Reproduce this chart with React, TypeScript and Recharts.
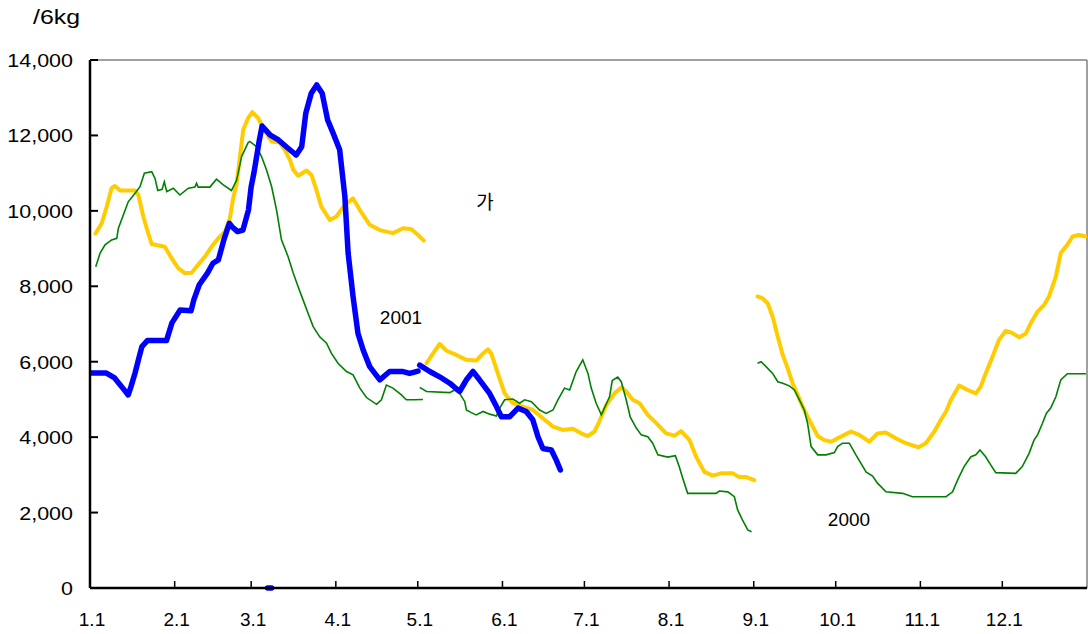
import React from 'react';
import { LineChart, Line, XAxis, YAxis, ReferenceLine } from 'recharts';

const FONT = "'Liberation Sans', Arial, 'Noto Sans CJK KR', sans-serif";

// day of year (0 = 1.1) for the month ticks
const monthTicks = [0, 31, 59, 90, 120, 151, 181, 212, 243, 273, 304, 334];
const monthLabels = ['1.1', '2.1', '3.1', '4.1', '5.1', '6.1', '7.1', '8.1', '9.1', '10.1', '11.1', '12.1'];
const yTicks = [0, 2000, 4000, 6000, 8000, 10000, 12000, 14000];

// 2001 (blue)
const blueDays = [
  0, 6, 9, 12, 14, 15, 16.5, 18, 19, 21,
  28, 30, 33, 37, 38, 40, 43, 45, 47, 49,
  51, 52, 54, 56, 58, 59, 60, 62, 63, 66,
  69, 72.5, 75.5, 77.5, 79, 81, 83, 85, 87, 89,
  91.4, 93.3, 94.5, 96.3, 98.1, 100, 102.4, 106.1, 109.7, 114.6,
  117, 120.1, 120.4,
  120.7, 124.4, 128, 131.7, 135.3, 137.8, 140.2, 142.6, 146.3, 148.8,
  150.6, 153.6, 156.7, 159.7, 162.1, 164, 165.8, 168.9, 170.7, 172.2,
  172.5, 65, 66.5,
];
const blueValues = [
  5700, 5700, 5570, 5300, 5120, 5340, 5700, 6130, 6400, 6560,
  6560, 7030, 7370, 7350, 7640, 8040, 8350, 8610, 8700, 9230,
  9670, 9580, 9450, 9490, 10020, 10640, 11000, 11880, 12250, 12010,
  11880, 11660, 11480, 11700, 12590, 13120, 13340, 13120, 12410, 12060,
  11620, 10380, 8880, 7730, 6750, 6310, 5870, 5520, 5740, 5740,
  5690, 5750, null,
  5910, 5740, 5600, 5430, 5210, 5520, 5740, 5520, 5160, 4810,
  4540, 4540, 4770, 4680, 4460, 4010, 3700, 3660, 3390, 3130,
  null, 0, 0,
];

// yellow series
const yellowDays = [
  2, 4.3, 6.1, 7.9, 9.1, 11, 16.5, 17.7, 19.5, 21.3,
  22.6, 27.4, 29.9, 32.3, 34.7, 37.2, 39.6, 42.1, 44.5, 46.9,
  49.4, 51.2, 52.4, 53.7, 54.9, 56.1, 57.9, 59.4, 61.6, 63.4,
  66.5, 69.5, 71.3, 73.2, 74.4, 76.2, 79.3, 81.1, 82.9, 84.7,
  87.8, 90.2, 93.3, 96.3, 98.8, 102.4, 106.1, 110.9, 114.6, 117.7,
  120.1, 122.2, 122.7,
  123.2, 125.6, 128, 130.5, 134.1, 137.8, 141.4, 143.9, 145.7, 146.9,
  149.3, 151.8, 154.8, 158.5, 162.1, 165.8, 169.5, 173.1, 176.8, 179.8,
  182.3, 184.7, 186.5, 189, 192, 194.6, 196.3, 198.7, 201.2, 204.2,
  207.3, 210.9, 214, 216.4, 219.5, 221.9, 224.9, 228, 231, 235.3,
  237.7, 240.2, 243.2, 243.8,
  244.4, 246.3, 248.1, 249.9, 251.8, 253.6, 255.4, 257.2, 259.1, 260.9,
  262.7, 264.6, 266.4, 268.8, 271.3, 273.7, 276.2, 278.6, 281.6, 285.3,
  288.3, 291.4, 295, 298.7, 303.3, 306, 309.1, 311.5, 313.4, 315.2,
  318.2, 321.3, 324.3, 326.1, 327.9, 330.4, 332.8, 335.3, 337.1, 340.2,
  342.6, 344.4, 346.9, 349.3, 351.1, 353.6, 355.4, 357.8, 359.7, 362.1,
  364.6,
];
const yellowValues = [
  9400, 9670, 10110, 10600, 10660, 10540, 10540, 10420, 9850, 9410,
  9120, 9050, 8740, 8480, 8350, 8360, 8570, 8790, 9050, 9270,
  9450, 9800, 10330, 10730, 11440, 12150, 12460, 12620, 12460, 12190,
  11840, 11810, 11620, 11350, 11090, 10930, 11070, 10950, 10550, 10110,
  9760, 9850, 10160, 10330, 10020, 9630, 9490, 9410, 9540, 9510,
  9360, 9210, null,
  5960, 6220, 6470, 6290, 6180, 6050, 6030, 6220, 6330, 6220,
  5690, 5160, 4900, 4810, 4720, 4500, 4280, 4190, 4220, 4100,
  4030, 4150, 4420, 4850, 5160, 5320, 5210, 4990, 4900, 4590,
  4370, 4100, 4040, 4160, 3920, 3480, 3080, 2980, 3040, 3040,
  2940, 2940, 2860, null,
  7730, 7680, 7550, 7200, 6660, 6180, 5830, 5430, 5120, 4810,
  4540, 4280, 4030, 3920, 3880, 3970, 4060, 4150, 4060, 3880,
  4100, 4120, 3970, 3840, 3730, 3840, 4150, 4460, 4680, 4990,
  5370, 5250, 5160, 5340, 5690, 6130, 6580, 6820, 6780, 6650,
  6750, 7020, 7330, 7510, 7730, 8260, 8880, 9100, 9320, 9360,
  9320,
];

// 2000 (green)
const greenDays = [
  2.1, 3.7, 5.5, 7.9, 9.8, 10.4, 12.2, 14, 16.5, 18.3,
  19.9, 22.6, 23.8, 24.8, 26.4, 27.2, 28.1, 30.5, 32.9, 36,
  38.4, 39, 39.6, 43.9, 46.3, 48.8, 51.8, 53.7, 55.5, 57.9,
  58.5, 61, 62.8, 64.6, 66.5, 68.3, 70.1, 72.5, 74.4, 76.2,
  78, 79.8, 81.7, 84.1, 86.6, 88.4, 90.8, 93.9, 96.3, 98.8,
  101.2, 104.9, 106.7, 108.5, 110.9, 114, 115.8, 118.3, 121.9, 121,
  120.7, 123.2, 131.7, 133.5, 135.3, 137.2, 137.8, 139.6, 141.4, 143.9,
  146.3, 148.8, 150, 151.8, 154.8, 157.3, 159.1, 161.6, 164.6, 167,
  169.5, 171.3, 173.7, 175.6, 178, 180.4, 182.3, 183.5, 185.3, 187.2,
  190.2, 191.2, 193.2, 194.5, 196.3, 197.8, 200, 201.8, 204.2, 206,
  207.9, 211.5, 214.3, 215.7, 217, 218.8, 229.2, 230.4, 233.5, 235.9,
  237.1, 238.9, 240.8, 242.2, 243,
  244.4, 245.7, 247.5, 249.9, 251.8, 253.6, 256, 257.9, 259.7, 261.5,
  262.7, 264, 266.4, 269.5, 272.5, 273.7, 275.5, 278, 280.4, 284.1,
  286.5, 288.3, 291.4, 297.5, 301.1, 313.4, 315.8, 317.6, 320, 322.5,
  324.3, 325.8, 327.9, 329.8, 331.6, 338.9, 341.3, 343.8, 345.6, 346.9,
  348.7, 350.1, 351.7, 353.6, 355.4, 357.8, 364.6,
];
const greenValues = [
  8520, 8880, 9100, 9230, 9270, 9540, 9890, 10240, 10470, 10640,
  11000, 11040, 10860, 10540, 10570, 10770, 10510, 10600, 10420, 10600,
  10630, 10730, 10630, 10630, 10840, 10690, 10540, 10820, 11440, 11810,
  11840, 11700, 11440, 11090, 10640, 10020, 9230, 8790, 8350, 7990,
  7640, 7290, 6930, 6660, 6490, 6220, 5960, 5740, 5650, 5300,
  5050, 4870, 4990, 5380, 5300, 5120, 4990, 4990, 5000, null,
  5320, 5210, 5180, 5250, 5160, 4940, 4720, 4650, 4590, 4680,
  4610, 4560, 4770, 4990, 5010, 4900, 4990, 4940, 4720, 4630,
  4720, 4990, 5300, 5250, 5740, 6050, 5690, 5300, 4900, 4590,
  5070, 5500, 5590, 5470, 4990, 4530, 4240, 4060, 4010, 3840,
  3530, 3470, 3510, 3220, 2910, 2510, 2510, 2570, 2550, 2420,
  2070, 1800, 1540, 1490, null,
  5960, 6000, 5870, 5690, 5470, 5430, 5360, 5250, 4990, 4720,
  4370, 3750, 3530, 3530, 3590, 3750, 3840, 3840, 3530, 3080,
  2970, 2780, 2550, 2510, 2420, 2420, 2550, 2860, 3220, 3480,
  3530, 3660, 3480, 3260, 3060, 3040, 3220, 3570, 3920, 4060,
  4370, 4630, 4770, 5070, 5520, 5680, 5680,
];

const toPoints = (days: number[], values: (number | null)[]) =>
  days.map((day, i) => ({ day, value: values[i] }));

const blueData = toPoints(blueDays, blueValues);
const yellowData = toPoints(yellowDays, yellowValues);
const greenData = toPoints(greenDays, greenValues);

// the y labels in the original are a bit wider than Arial
const labelWidth = (s: string, size: number) =>
  s.split('').reduce((w, ch) => w + (ch === ',' ? 0.278 : 0.556), 0) * size;

const YTick = (props: any) => {
  const { x, y, payload } = props;
  const label = Number(payload.value).toLocaleString('en-US');
  return (
    <g>
      <line x1={x} y1={y} x2={x + 8} y2={y} stroke="#000" strokeWidth={2} />
      <text
        x={x - 17}
        y={y + 7}
        textAnchor="end"
        fontSize={19}
        fontFamily={FONT}
        fill="#000"
        textLength={labelWidth(label, 19) * 1.13}
        lengthAdjust="spacingAndGlyphs"
      >
        {label}
      </text>
    </g>
  );
};

const XTick = (props: any) => {
  const { x, y, payload } = props;
  const idx = monthTicks.indexOf(payload.value);
  return (
    <g>
      <line x1={x} y1={y} x2={x} y2={y - 7} stroke="#000" strokeWidth={1.5} />
      <text x={x + 2} y={y + 38} textAnchor="middle" fontSize={19} fontFamily={FONT} fill="#000">
        {monthLabels[idx]}
      </text>
    </g>
  );
};

const App = () => {
  return (
    <div style={{ position: 'relative', width: 1088, height: 634, background: '#fff' }}>
      <style>{'body{margin:0}'}</style>
      <LineChart width={1088} height={634} margin={{ top: 60, right: 1, bottom: 0, left: 0 }}>
        <XAxis
          type="number"
          dataKey="day"
          domain={[0, 365]}
          ticks={monthTicks}
          interval={0}
          allowDataOverflow
          height={46}
          tickSize={0}
          tickMargin={0}
          tickLine={false}
          axisLine={{ stroke: '#000', strokeWidth: 2.5 }}
          tick={<XTick />}
        />
        <YAxis
          type="number"
          domain={[0, 14000]}
          ticks={yTicks}
          interval={0}
          width={90}
          tickSize={0}
          tickMargin={0}
          tickLine={false}
          axisLine={{ stroke: '#000', strokeWidth: 2.5 }}
          tick={<YTick />}
        />
        <ReferenceLine y={14000} stroke="#808080" strokeWidth={1.5} />
        <ReferenceLine x={365} stroke="#808080" strokeWidth={1.5} />
        <Line
          data={yellowData}
          dataKey="value"
          type="linear"
          stroke="#FFCC00"
          strokeWidth={4}
          dot={false}
          activeDot={false}
          strokeLinejoin="round"
          strokeLinecap="round"
          isAnimationActive={false}
        />
        <Line
          data={greenData}
          dataKey="value"
          type="linear"
          stroke="#008000"
          strokeWidth={1.6}
          dot={false}
          activeDot={false}
          isAnimationActive={false}
        />
        <Line
          data={blueData}
          dataKey="value"
          type="linear"
          stroke="#0000FF"
          strokeWidth={5.5}
          dot={false}
          activeDot={false}
          strokeLinejoin="round"
          strokeLinecap="round"
          isAnimationActive={false}
        />
      </LineChart>
      <svg width={1088} height={634} style={{ position: 'absolute', left: 0, top: 0, pointerEvents: 'none' }}>
        <text x={33} y={24} fontSize={20} fontFamily={FONT} fill="#000" textLength={47} lengthAdjust="spacingAndGlyphs">
          /6kg
        </text>
        <text x={485} y={209} fontSize={19} fontFamily={FONT} fill="#000" textAnchor="middle">가</text>
        <text x={401} y={324} fontSize={19} fontFamily={FONT} fill="#000" textAnchor="middle">2001</text>
        <text x={849} y={526} fontSize={19} fontFamily={FONT} fill="#000" textAnchor="middle">2000</text>
      </svg>
    </div>
  );
};

export default App;
